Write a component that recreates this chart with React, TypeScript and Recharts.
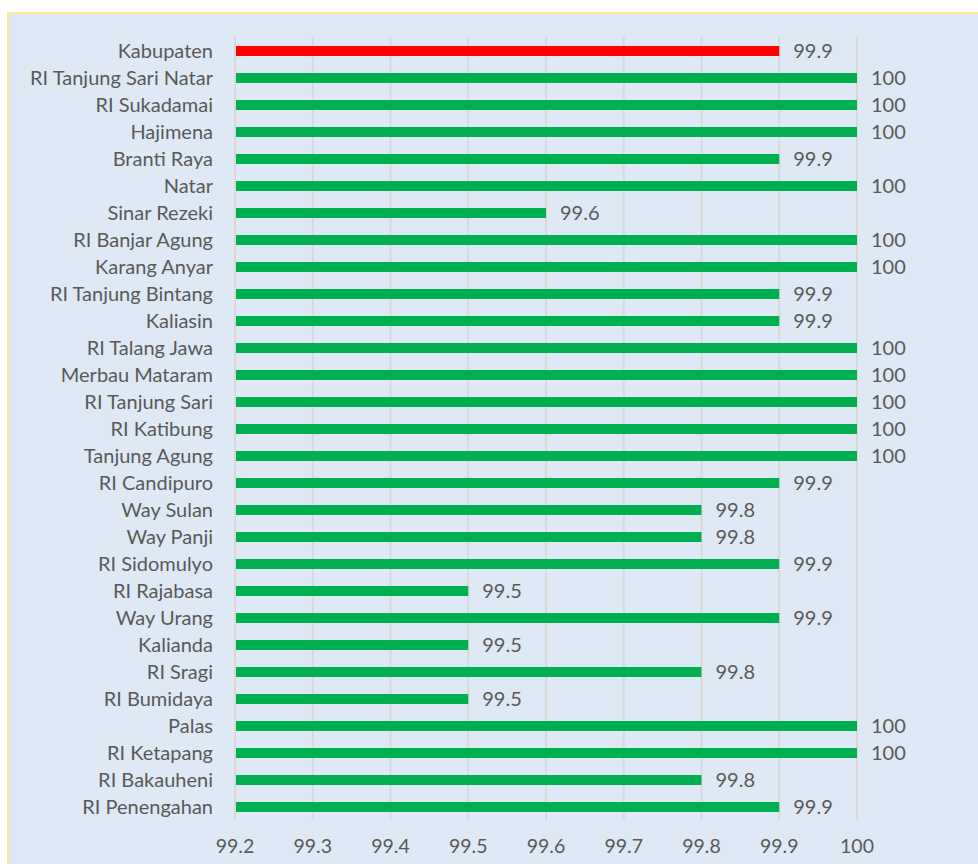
import { Bar, BarChart, CartesianGrid, Cell, LabelList, XAxis, YAxis } from 'recharts'

const names = [
  'Kabupaten', 'RI Tanjung Sari Natar', 'RI Sukadamai', 'Hajimena', 'Branti Raya', 'Natar',
  'Sinar Rezeki', 'RI Banjar Agung', 'Karang Anyar', 'RI Tanjung Bintang', 'Kaliasin',
  'RI Talang Jawa', 'Merbau Mataram', 'RI Tanjung Sari', 'RI Katibung', 'Tanjung Agung',
  'RI Candipuro', 'Way Sulan', 'Way Panji', 'RI Sidomulyo', 'RI Rajabasa', 'Way Urang',
  'Kalianda', 'RI Sragi', 'RI Bumidaya', 'Palas', 'RI Ketapang', 'RI Bakauheni', 'RI Penengahan',
]
const values = [
  99.9, 100, 100, 100, 99.9, 100, 99.6, 100, 100, 99.9, 99.9, 100, 100, 100, 100, 100,
  99.9, 99.8, 99.8, 99.9, 99.5, 99.9, 99.5, 99.8, 99.5, 100, 100, 99.8, 99.9,
]
const xTicks = [99.2, 99.3, 99.4, 99.5, 99.6, 99.7, 99.8, 99.9, 100]

const data = names.map((name, i) => ({ name, value: values[i] }))

const font = 'Lato, "Open Sans", sans-serif'
const textColor = '#595959'

export default function App() {
  return (
    <div style={{ position: 'absolute', left: 0, top: 0, width: 978, height: 864, overflow: 'hidden', background: '#fff' }}>
      <div
        style={{
          position: 'absolute', left: 7, top: 12, width: 990, height: 880,
          background: '#dee9f5', border: '2px solid #ffe699', boxSizing: 'border-box',
        }}
      />
      <div style={{ position: 'absolute', left: 0, top: 0 }}>
        <BarChart
          width={978}
          height={864}
          data={data}
          layout="vertical"
          margin={{ top: 37, right: 121, left: 0, bottom: 14 }}
          barCategoryGap={0}
        >
          <CartesianGrid horizontal={false} stroke="#d9d9d9" strokeWidth={2} />
          <XAxis
            type="number"
            domain={[99.2, 100]}
            ticks={xTicks}
            allowDataOverflow
            axisLine={false}
            tickLine={false}
            height={30}
            tickMargin={13}
            tick={{ fill: textColor, fontSize: 19.5, fontFamily: font }}
          />
          <YAxis
            type="category"
            dataKey="name"
            width={235}
            axisLine={{ stroke: '#d9d9d9', strokeWidth: 2 }}
            tickLine={false}
            tickMargin={16}
            interval={0}
            tick={{ fill: textColor, fontSize: 20, fontFamily: font }}
          />
          <Bar dataKey="value" barSize={10} isAnimationActive={false}>
            {data.map((d, i) => (
              <Cell key={d.name} fill={i === 0 ? '#ff0000' : '#00b050'} />
            ))}
            <LabelList dataKey="value" position="right" offset={14} fill={textColor} fontSize={20} fontFamily={font} />
          </Bar>
        </BarChart>
      </div>
    </div>
  )
}
